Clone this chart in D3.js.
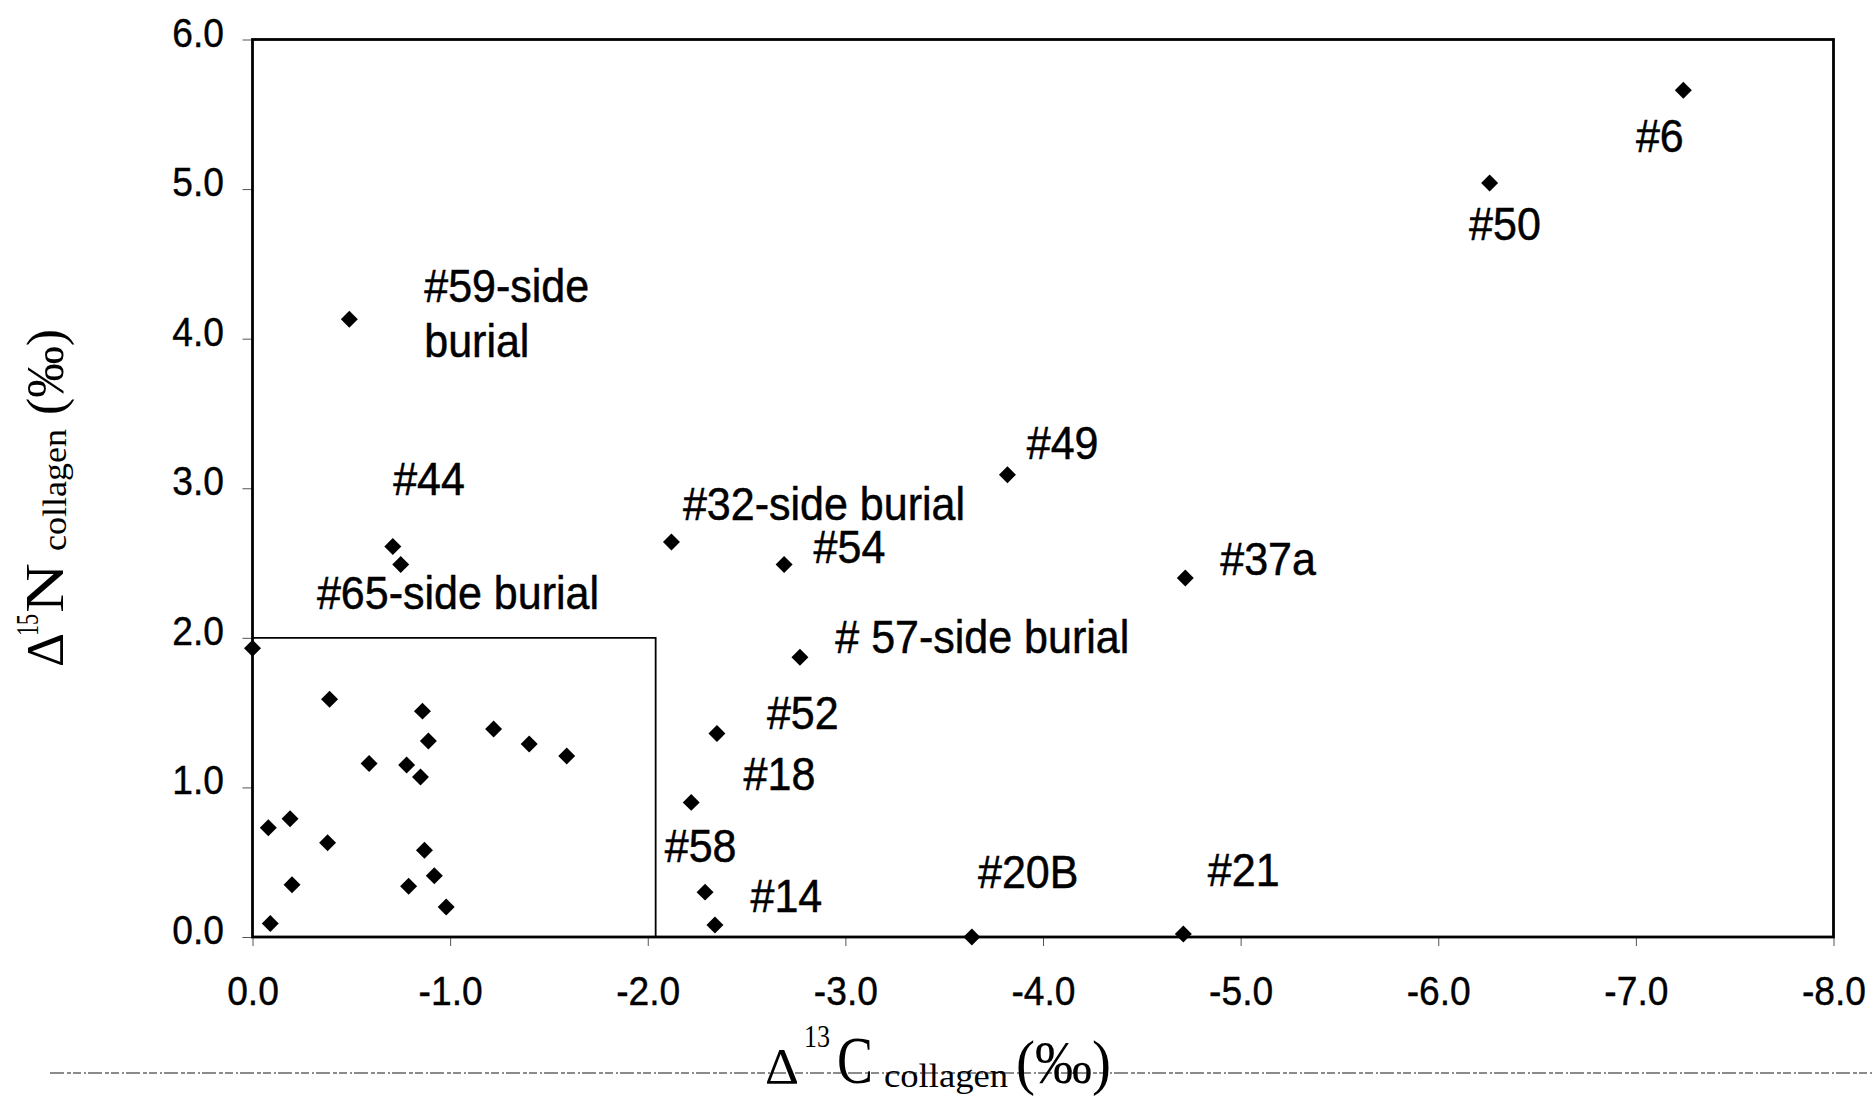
<!DOCTYPE html>
<html><head><meta charset="utf-8">
<script src="https://cdn.jsdelivr.net/npm/d3@7"></script>
<style>body{margin:0;background:#fff}svg{display:block}</style>
</head><body>
<svg id="chart" width="1874" height="1096"></svg>
<script>
// ---- data (Δ13C, Δ15N collagen, ‰) ----
const d13C = [0.00, -0.08, -0.19, -0.38, -0.39, -0.20, -0.09, -0.59, -0.78, -0.85, -0.86, -0.89, -0.87, -0.79, -0.92, -0.98, -1.22, -1.40, -1.59, -0.49, -0.71, -0.75, -2.12, -2.69, -2.77, -3.82, -4.72, -2.35, -2.22, -2.29, -2.34, -3.64, -4.71, -6.26, -7.24];
const d15N = [1.93, 0.73, 0.79, 0.63, 1.59, 0.35, 0.09, 1.16, 1.15, 1.07, 1.51, 1.31, 0.58, 0.34, 0.41, 0.20, 1.39, 1.29, 1.21, 4.13, 2.61, 2.49, 2.64, 2.49, 1.87, 3.09, 2.40, 1.36, 0.90, 0.30, 0.08, 0.00, 0.02, 5.04, 5.66];
const xTicks = [0, -1, -2, -3, -4, -5, -6, -7, -8];
const yTicks = [0, 1, 2, 3, 4, 5, 6];
const boxC = [0, -2.04];
const boxN = [0, 2.0];
const labelText = ["#6", "#50", "#59-side", "burial", "#44", "#65-side burial", "#32-side burial", "#49", "#54", "#37a", "# 57-side burial", "#52", "#18", "#58", "#14", "#20B", "#21"];
const labelC = [-7.00, -6.156, -0.869, -0.869, -0.712, -0.326, -2.178, -3.918, -2.839, -4.897, -2.949, -2.603, -2.485, -2.086, -2.520, -3.671, -4.834];
const labelN = [5.249, 4.659, 4.246, 3.877, 2.957, 2.191, 2.787, 3.198, 2.498, 2.418, 1.896, 1.388, 0.985, 0.504, 0.170, 0.326, 0.341];

const svg = d3.select("#chart");
const L = 252.5, R = 1833.5, T = 39.5, B = 937;
const x = d3.scaleLinear().domain([0, -8]).range([L, R]);
const y = d3.scaleLinear().domain([0, 6]).range([B, T]);
const SANS = "'Liberation Sans', Arial, Helvetica, sans-serif";
const SERIF = "'Liberation Serif', 'Times New Roman', Times, serif";
const fmt = d => d.toFixed(1);

// scan artifact line
svg.append("line").attr("x1", 50).attr("x2", 1874).attr("y1", 1073).attr("y2", 1073)
  .attr("stroke", "#666").attr("stroke-width", 1.4).attr("stroke-dasharray", "14 3 4 2 8 3 2 2");

// axes
const yAxis = svg.append("g").attr("transform", `translate(${L},0)`)
  .call(d3.axisLeft(y).tickValues(yTicks).tickFormat(fmt).tickSize(10).tickPadding(0));
const xAxis = svg.append("g").attr("transform", `translate(0,${B})`)
  .call(d3.axisBottom(x).tickValues(xTicks).tickFormat(fmt).tickSize(9).tickPadding(0));
[yAxis, xAxis].forEach(g => {
  g.select(".domain").remove();
  g.selectAll(".tick line").attr("stroke", "#555").attr("stroke-width", 1);
  g.selectAll(".tick text").attr("font-family", SANS).attr("font-size", 40).attr("fill", "#000")
    .attr("stroke", "#000").attr("stroke-width", 0.4);
});
yAxis.selectAll(".tick text").attr("x", null).attr("dy", null)
  .attr("text-anchor", "end").attr("transform", "translate(-28.5,6.5) scale(0.93,1)");
xAxis.selectAll(".tick text").attr("y", null).attr("dy", null)
  .attr("text-anchor", "middle").attr("transform", "translate(0,68) scale(0.93,1)");

// inner reference box
svg.append("path")
  .attr("d", `M${x(boxC[0])},${y(boxN[1])}H${x(boxC[1])}V${y(boxN[0])}`)
  .attr("fill", "none").attr("stroke", "#000").attr("stroke-width", 1.8);

// frame
svg.append("rect").attr("x", x(0)).attr("y", y(6))
  .attr("width", x(-8) - x(0)).attr("height", y(0) - y(6))
  .attr("fill", "none").attr("stroke", "#000").attr("stroke-width", 2.8);

// points
const sym = d3.symbol().type(d3.symbolSquare).size(144);
svg.append("g").selectAll("path").data(d13C.map((c, i) => [c, d15N[i]])).join("path")
  .attr("d", sym)
  .attr("transform", d => `translate(${x(d[0])},${y(d[1])}) rotate(45)`)
  .attr("fill", "#000");

// point labels
svg.append("g").selectAll("text").data(labelText.map((t, i) => [t, labelC[i], labelN[i]])).join("text")
  .attr("transform", d => `translate(${x(d[1])},${y(d[2])}) scale(0.935,1)`)
  .attr("font-family", SANS).attr("font-size", 46).attr("fill", "#000")
  .attr("stroke", "#000").attr("stroke-width", 0.5)
  .attr("xml:space", "preserve")
  .text(d => d[0]);

// y-axis title: Δ15N collagen (‰)
const yt = svg.append("g").attr("transform", "translate(63,667) rotate(-90)")
  .attr("font-family", SERIF).attr("fill", "#000");
const yParts = [
  {t: "Δ", x: 0, y: 0, fs: 52, len: 34},
  {t: "15", x: 31, y: -25, fs: 32, len: 22},
  {t: "N", x: 54, y: 0, fs: 55, len: 50},
  {t: "collagen", x: 116, y: 3, fs: 34, len: 122},
  {t: "(‰)", x: 252, y: 0, fs: 52, len: 86}
];
yt.selectAll("text").data(yParts).join("text")
  .attr("x", d => d.x).attr("y", d => d.y).attr("font-size", d => d.fs)
  .attr("textLength", d => d.len).attr("lengthAdjust", "spacingAndGlyphs")
  .text(d => d.t);

// x-axis title: Δ13C collagen (‰)
const xt = svg.append("g").attr("font-family", SERIF).attr("fill", "#000");
const xParts = [
  {t: "Δ", x: 765, y: 1083, fs: 50, len: 34},
  {t: "13", x: 804, y: 1047, fs: 31, len: 26},
  {t: "C", x: 837, y: 1083, fs: 67, len: 36},
  {t: "collagen", x: 884, y: 1087, fs: 33, len: 124},
  {t: "(‰)", x: 1016, y: 1083, fs: 62, len: 95}
];
xt.selectAll("text").data(xParts).join("text")
  .attr("x", d => d.x).attr("y", d => d.y).attr("font-size", d => d.fs)
  .attr("textLength", d => d.len).attr("lengthAdjust", "spacingAndGlyphs")
  .text(d => d.t);
</script>
</body></html>
